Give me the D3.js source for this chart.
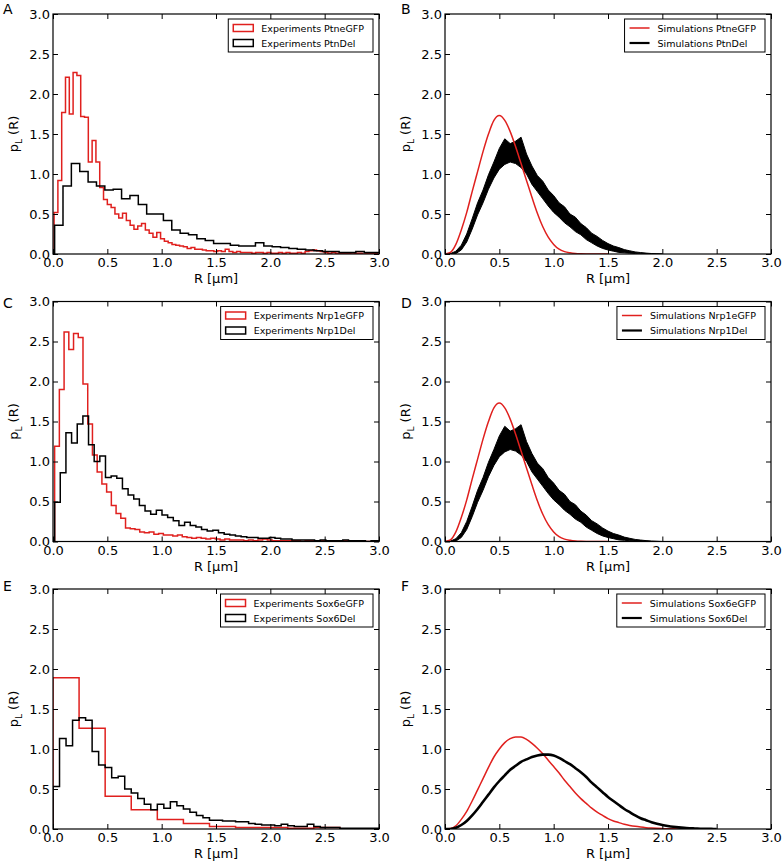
<!DOCTYPE html>
<html><head><meta charset="utf-8">
<script src="https://cdn.jsdelivr.net/npm/d3@7"></script>
<style>
body{margin:0;background:#fff;}
svg text{font-family:"DejaVu Sans",sans-serif;}
</style>
</head><body>
<svg id="chart" width="784" height="865"></svg>
<script>
// ---------------- DATA ----------------
const xTickValues = [0, 0.5, 1.0, 1.5, 2.0, 2.5, 3.0];
const yTickValues = [0, 0.5, 1.0, 1.5, 2.0, 2.5, 3.0];
const panelLetters = ["A", "B", "C", "D", "E", "F"];
const xLabel = "R [μm]";

// Experimental histograms: bin start, bin width, bin heights
const expA_labels = ["Experiments PtneGFP", "Experiments PtnDel"];
const expA_red_bins = {start: 0.01, width: 0.035};
const expA_red = [0.52,0.92,1.77,2.21,1.75,2.27,2.23,1.72,1.71,1.15,1.42,1.15,
  0.83,0.68,0.62,0.58,0.5,0.45,0.51,0.42,0.36,0.31,0.35,0.38,0.3,0.26,0.21,0.27,
  0.19,0.16,0.14,0.12,0.11,0.1,0.09,0.07,0.08,0.06,0.06,0.05,0.04,0.04,0.03,0.04,
  0.03,0.06,0.03,0.02,0.03,0.02,0.02,0.02,0.01,0.02,0.02,0.01,0.02,0.01,0.01,0.02,
  0.01,0.02,0.01,0.01,0.02,0.01,0.03,0.04,0.05,0.04,0.03,0.02,0.01,0.02,0.01,0.01,
  0.01,0.01,0.0,0.01,0.01,0.0,0.01,0.01,0.01];
const expA_black_bins = {start: 0.015, width: 0.077};
const expA_black = [0.36,0.85,1.13,1.03,0.9,0.85,0.8,0.81,0.69,0.73,0.62,0.5,0.5,0.42,0.3,0.26,
  0.24,0.19,0.17,0.13,0.13,0.11,0.1,0.1,0.14,0.1,0.09,0.08,0.07,0.06,0.05,0.04,0.03,0.03,
  0.02,0.02,0.03,0.02,0.02];

const expC_labels = ["Experiments Nrp1eGFP", "Experiments Nrp1Del"];
const expC_red_bins = {start: 0.015, width: 0.0435};
const expC_red = [1.19,1.9,2.62,2.4,2.6,2.55,1.97,1.47,1.08,0.87,
  0.72,0.62,0.45,0.35,0.29,0.17,0.16,0.15,0.12,0.11,
  0.12,0.09,0.1,0.08,0.08,0.07,0.08,0.06,0.05,0.04,
  0.05,0.04,0.03,0.04,0.03,0.02,0.03,0.02,0.02,0.02,
  0.01,0.02,0.01,0.02,0.03,0.02,0.01,0.01,0.01,0.01,
  0.01,0.01,0.0,0.01,0.01,0.0,0.01,0.0,0.01,0.0,
  0.0,0.01,0.0,0.0,0.01,0.0,0.0,0.0,0.0];
const expC_black_bins = {start: 0.015, width: 0.052};
const expC_black = [0.49,0.86,1.36,1.23,1.47,1.57,1.21,1.0,1.07,0.8,
  0.82,0.79,0.66,0.58,0.53,0.45,0.38,0.34,0.39,0.33,
  0.3,0.26,0.2,0.24,0.2,0.18,0.15,0.13,0.14,0.11,
  0.09,0.08,0.07,0.06,0.05,0.05,0.04,0.04,0.05,0.04,
  0.03,0.03,0.02,0.02,0.02,0.02,0.01,0.02,0.01,0.01,
  0.01,0.02,0.01,0.01,0.01,0.0,0.01,0.01];

const expE_labels = ["Experiments Sox6eGFP", "Experiments Sox6Del"];
const expE_red_bins = {start: 0.0, width: 0.24};
const expE_red = [1.89,1.26,0.41,0.24,0.12,0.07,0.03,0.02,0.02,0.01,0.02];
const expE_black_bins = {start: 0.0, width: 0.06};
const expE_black = [0.53,1.13,1.04,1.36,1.39,1.36,0.97,0.8,0.77,0.64,
  0.66,0.5,0.45,0.38,0.31,0.24,0.31,0.26,0.34,0.29,
  0.25,0.21,0.17,0.14,0.11,0.11,0.1,0.1,0.09,0.09,
  0.07,0.06,0.05,0.05,0.04,0.06,0.04,0.03,0.03,0.06,
  0.03,0.02,0.02,0.02,0.01,0.01,0.01,0.01,0.01,0.01];

// Simulations: values sampled every 0.05 μm starting at R = 0
const simStep = 0.05;
const simB_labels = ["Simulations PtneGFP", "Simulations PtnDel"];
const simB_red = [0,0.02,0.12,0.3,0.52,0.78,1.03,1.28,1.5,1.67,1.73,1.67,1.53,1.34,1.13,0.92,
  0.71,0.51,0.34,0.21,0.12,0.06,0.03,0.015,0.006,0.002,0,0,0,0,0];
const simB_black_hi = [0,0.005,0.035,0.11,0.25,0.44,0.64,0.8,0.99,1.15,1.32,1.44,1.38,1.41,1.46,1.25,
  1.1,0.98,0.91,0.8,0.73,0.64,0.59,0.5,0.46,0.38,0.33,0.26,0.22,0.17,0.13,0.1,0.08,0.055,
  0.04,0.026,0.018,0.011,0.006,0.003,0];
const simB_black_lo = [0,0,0.005,0.05,0.15,0.31,0.49,0.64,0.81,0.95,1.06,1.12,1.15,1.13,1.08,1.0,
  0.87,0.78,0.69,0.6,0.52,0.46,0.39,0.34,0.28,0.24,0.18,0.14,0.1,0.07,0.05,0.035,0.02,0.015,
  0.01,0.006,0.002,0.001,0,0,0];

const simD_labels = ["Simulations Nrp1eGFP", "Simulations Nrp1Del"];
const simD_red = [0,0.02,0.12,0.3,0.52,0.78,1.03,1.28,1.5,1.67,1.73,1.67,1.53,1.34,1.13,0.92,
  0.71,0.51,0.34,0.21,0.12,0.06,0.03,0.015,0.006,0.002,0,0,0,0,0];
const simD_black_hi = [0,0.005,0.035,0.11,0.25,0.44,0.64,0.8,0.99,1.15,1.32,1.44,1.38,1.41,1.46,1.25,
  1.1,0.98,0.91,0.8,0.73,0.64,0.59,0.5,0.46,0.38,0.33,0.26,0.22,0.17,0.13,0.1,0.08,0.055,
  0.04,0.026,0.018,0.011,0.006,0.003,0];
const simD_black_lo = [0,0,0.005,0.05,0.15,0.31,0.49,0.64,0.81,0.95,1.06,1.12,1.15,1.13,1.08,1.0,
  0.87,0.78,0.69,0.6,0.52,0.46,0.39,0.34,0.28,0.24,0.18,0.14,0.1,0.07,0.05,0.035,0.02,0.015,
  0.01,0.006,0.002,0.001,0,0,0];

const simF_labels = ["Simulations Sox6eGFP", "Simulations Sox6Del"];
const simF_red = [0,0.005,0.04,0.12,0.22,0.35,0.49,0.63,0.77,0.9,1.0,1.08,1.13,1.15,1.15,1.12,
  1.07,1.01,0.94,0.86,0.78,0.7,0.61,0.53,0.45,0.38,0.32,0.26,0.21,0.17,0.13,0.1,0.08,0.06,
  0.045,0.033,0.024,0.017,0.012,0.008,0.005,0.003,0.002,0.001,0];
const simF_black = [0,0,0.015,0.05,0.1,0.17,0.25,0.34,0.43,0.52,0.6,0.67,0.74,0.79,0.84,0.87,
  0.9,0.92,0.93,0.93,0.92,0.89,0.85,0.81,0.76,0.71,0.65,0.58,0.52,0.46,0.4,0.35,0.3,0.25,
  0.21,0.17,0.135,0.11,0.085,0.065,0.05,0.038,0.028,0.02,0.014,0.01,0.007,0.004,0.002,0.001,0];

// ---------------- LAYOUT / STYLE ----------------
const RED = "#e0201e", BLACK = "#000";
const colLeft = [53, 445], rowTop = [14, 301.5, 589];
const plotW = 326, plotH = 240;
const letterBase = [14, 308, 591], letterX = [3, 401];

const panels = [
  {type: "exp", col: 0, row: 0, labels: expA_labels,
   red: {bins: expA_red_bins, vals: expA_red}, black: {bins: expA_black_bins, vals: expA_black}},
  {type: "sim", col: 1, row: 0, labels: simB_labels, red: simB_red, hi: simB_black_hi, lo: simB_black_lo},
  {type: "exp", col: 0, row: 1, labels: expC_labels,
   red: {bins: expC_red_bins, vals: expC_red}, black: {bins: expC_black_bins, vals: expC_black}},
  {type: "sim", col: 1, row: 1, labels: simD_labels, red: simD_red, hi: simD_black_hi, lo: simD_black_lo},
  {type: "exp", col: 0, row: 2, labels: expE_labels,
   red: {bins: expE_red_bins, vals: expE_red}, black: {bins: expE_black_bins, vals: expE_black}},
  {type: "simF", col: 1, row: 2, labels: simF_labels, red: simF_red, black: simF_black}
];

const svg = d3.select("#chart");
const fmt = d3.format(".1f");

function stepPoints(bins, vals) {
  const pts = [];
  vals.forEach((v, i) => {
    const x0 = bins.start + i * bins.width, x1 = x0 + bins.width;
    if (i === 0) pts.push([x0, 0]);
    pts.push([x0, v]); pts.push([x1, v]);
  });
  pts.push([bins.start + vals.length * bins.width, 0]);
  return pts;
}

panels.forEach((p, pi) => {
  const left = colLeft[p.col], top = rowTop[p.row];
  const g = svg.append("g").attr("transform", `translate(${left},${top})`);
  const x = d3.scaleLinear().domain([0, 3]).range([0, plotW]);
  const y = d3.scaleLinear().domain([0, 3]).range([plotH, 0]);

  const clipId = "clip" + pi;
  g.append("clipPath").attr("id", clipId).append("rect")
    .attr("x", 0).attr("y", 0).attr("width", plotW).attr("height", plotH);
  const data = g.append("g").attr("clip-path", `url(#${clipId})`);

  const line = d3.line().x(d => x(d[0])).y(d => y(d[1]));

  if (p.type === "exp") {
    data.append("path").attr("d", line(stepPoints(p.red.bins, p.red.vals)))
      .attr("fill", "none").attr("stroke", RED).attr("stroke-width", 1.5).attr("stroke-linejoin", "miter");
    data.append("path").attr("d", line(stepPoints(p.black.bins, p.black.vals)))
      .attr("fill", "none").attr("stroke", BLACK).attr("stroke-width", 1.5).attr("stroke-linejoin", "miter");
  } else if (p.type === "sim") {
    const band = p.hi.map((h, i) => ({r: i * simStep, hi: h, lo: p.lo[i]}));
    data.append("path")
      .attr("d", d3.area().x(d => x(d.r)).y0(d => y(d.lo)).y1(d => y(d.hi))(band))
      .attr("fill", BLACK).attr("stroke", BLACK).attr("stroke-width", 1);
    const rl = d3.line().x((d, i) => x(i * simStep)).y(d => y(d)).curve(d3.curveMonotoneX);
    data.append("path").attr("d", rl(p.red))
      .attr("fill", "none").attr("stroke", RED).attr("stroke-width", 1.5);
  } else {
    const rl = d3.line().x((d, i) => x(i * simStep)).y(d => y(d)).curve(d3.curveMonotoneX);
    data.append("path").attr("d", rl(p.red))
      .attr("fill", "none").attr("stroke", RED).attr("stroke-width", 1.5);
    data.append("path").attr("d", rl(p.black))
      .attr("fill", "none").attr("stroke", BLACK).attr("stroke-width", 2.6);
  }

  // axes
  const styleAxis = sel => {
    sel.select(".domain").remove();
    sel.selectAll(".tick line").attr("stroke", "#000").attr("stroke-width", 1);
    sel.selectAll(".tick text").attr("fill", "#000").attr("font-size", 13)
      .attr("font-family", "DejaVu Sans, sans-serif");
    sel.attr("font-family", null).attr("font-size", null);
  };
  g.append("g").attr("transform", `translate(0,${plotH})`)
    .call(d3.axisBottom(x).tickValues(xTickValues).tickFormat(fmt).tickSizeInner(-5).tickSizeOuter(0).tickPadding(4))
    .call(styleAxis);
  g.append("g")
    .call(d3.axisLeft(y).tickValues(yTickValues).tickFormat(fmt).tickSizeInner(-5).tickSizeOuter(0).tickPadding(3))
    .call(styleAxis);
  g.append("g")
    .call(d3.axisTop(x).tickValues(xTickValues).tickFormat("").tickSizeInner(-5).tickSizeOuter(0))
    .call(styleAxis);
  g.append("g").attr("transform", `translate(${plotW},0)`)
    .call(d3.axisRight(y).tickValues(yTickValues).tickFormat("").tickSizeInner(-5).tickSizeOuter(0))
    .call(styleAxis);

  // frame
  g.append("rect").attr("x", 0).attr("y", 0).attr("width", plotW).attr("height", plotH)
    .attr("fill", "none").attr("stroke", "#000").attr("stroke-width", 1.2);

  // axis labels
  g.append("text").attr("x", plotW / 2).attr("y", plotH + 29).attr("text-anchor", "middle")
    .attr("font-size", 13).attr("fill", "#000").text(xLabel);
  const yl = g.append("text").attr("transform", `translate(-35,${plotH / 2}) rotate(-90)`)
    .attr("text-anchor", "middle").attr("font-size", 13).attr("fill", "#000");
  yl.append("tspan").text("p");
  yl.append("tspan").attr("font-size", 9).attr("dy", 4).text("L");
  yl.append("tspan").attr("dy", -4).text(" (R)");

  // panel letter
  svg.append("text").attr("x", letterX[p.col]).attr("y", letterBase[p.row])
    .attr("font-size", 14).attr("fill", "#000").text(panelLetters[pi]);

  // legend
  const lg = g.append("g");
  const box = lg.append("rect").attr("fill", "#fff").attr("stroke", "#000").attr("stroke-width", 1);
  const rowsY = [9, 24];
  const colors = [RED, BLACK];
  let maxW = 0;
  const texts = p.labels.map((lab, i) => {
    const t = lg.append("text").attr("y", rowsY[i] + 3.5).attr("font-size", 9.5).attr("fill", "#000").text(lab);
    maxW = Math.max(maxW, t.node().getComputedTextLength());
    return t;
  });
  const legW = 33 + maxW + 9, legH = 33;
  const legX = plotW - 6 - legW, legY = 5;
  lg.attr("transform", `translate(${legX},${legY})`);
  box.attr("x", 0).attr("y", 0).attr("width", legW).attr("height", legH);
  texts.forEach(t => t.attr("x", 33));
  p.labels.forEach((lab, i) => {
    if (p.type === "exp") {
      lg.append("rect").attr("x", 5).attr("y", rowsY[i] - 3.5).attr("width", 20).attr("height", 7)
        .attr("fill", "none").attr("stroke", colors[i]).attr("stroke-width", 1.5);
    } else {
      lg.append("line").attr("x1", 5).attr("x2", 25).attr("y1", rowsY[i]).attr("y2", rowsY[i])
        .attr("stroke", colors[i]).attr("stroke-width", i === 0 ? 1.5 : 2.2);
    }
  });
});
</script>
</body></html>
